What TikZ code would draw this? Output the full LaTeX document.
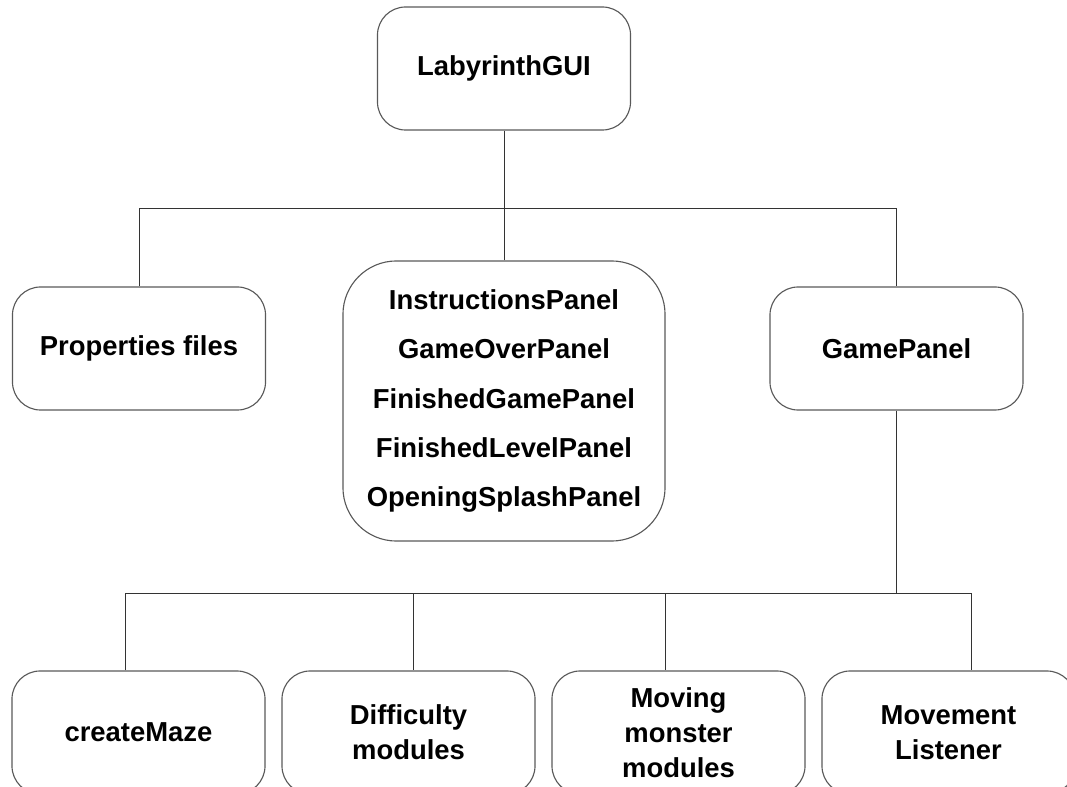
\documentclass[tikz,border=0pt]{standalone}
\usepackage{fontspec}
\setmainfont{Liberation Sans}
\usetikzlibrary{positioning}
\tikzset{
  module/.style={draw=black!65,line width=0.8pt,rounded corners=20,
    minimum width=6.325cm,minimum height=3.075cm,align=center,
    font=\bfseries\fontsize{19.5}{25}\selectfont},
  link/.style={draw=black!80,line width=0.7pt}
}
\begin{document}
\begin{tikzpicture}[x=0.025cm,y=-0.025cm]
  \useasboundingbox (0,0) rectangle (1067,787);
  % top level
  \node[module] (gui) at (504,68.5) {LabyrinthGUI};
  \node[module] (props) at (139,348.5) {Properties files};
  \node[module,rounded corners=38,minimum width=8.05cm,minimum height=7cm,
    font=\bfseries\fontsize{19.5}{35}\selectfont] (panels) at (504,401)
    {InstructionsPanel\\GameOverPanel\\FinishedGamePanel\\FinishedLevelPanel\\OpeningSplashPanel};
  \node[module] (game) at (896.5,348.5) {GamePanel};
  % game panel parts
  \node[module] (maze) at (138.5,732.5) {createMaze};
  \node[module] (diff) at (408.5,732.5) {Difficulty\\modules};
  \node[module] (monster) at (678.5,732.5) {Moving\\monster\\modules};
  \node[module] (listen) at (948.5,732.5) {Movement\\Listener};
  \coordinate (topbus) at (501,208);
  \draw[link] (gui.south) -- (gui.south |- topbus);
  \draw[link] (props.north) -- (props.north |- topbus) -- (game.north |- topbus) -- (game.north);
  \draw[link] (panels.north) -- (panels.north |- topbus);
  \coordinate (bus1) at (125,593);
  \coordinate (bus2) at (413,593);
  \coordinate (bus3) at (665,593);
  \coordinate (bus4) at (971,593);
  \draw[link] (game.south) -- (game.south |- bus1);
  \draw[link] (bus1 |- maze.north) -- (bus1) -- (bus4) -- (bus4 |- listen.north);
  \draw[link] (bus2) -- (bus2 |- diff.north);
  \draw[link] (bus3) -- (bus3 |- monster.north);
\end{tikzpicture}
\end{document}
